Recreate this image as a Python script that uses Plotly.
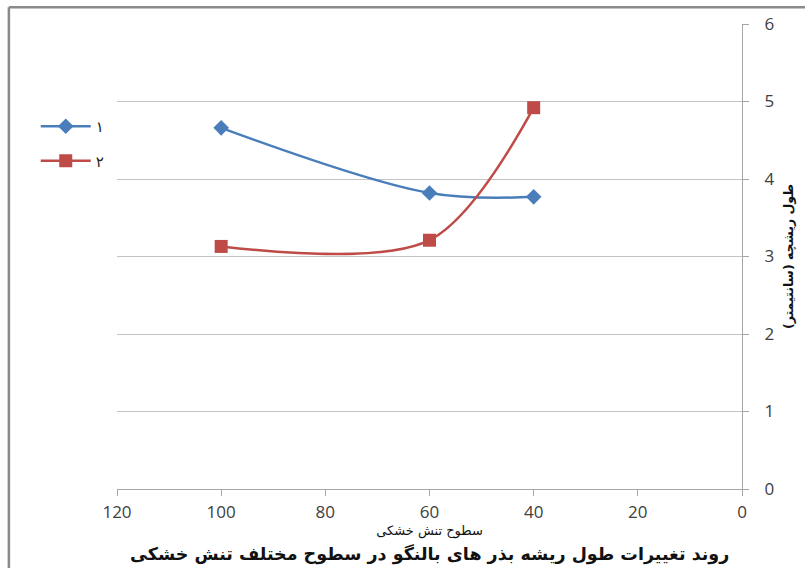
import plotly.graph_objects as go

# Drought stress levels (x) and root length (cm) for the two series
stress_levels = [100, 60, 40]
root_len_1 = [4.66, 3.82, 3.77]
root_len_2 = [3.13, 3.21, 4.92]
series_names = ["۱", "۲"]

x_ticks = [120, 100, 80, 60, 40, 20, 0]
y_ticks = [0, 1, 2, 3, 4, 5, 6]

x_title = "سطوح تنش خشکی"
y_title = "طول ریشچه (سانتیمتر)"
caption = "روند تغییرات طول ریشه بذر های بالنگو در سطوح مختلف تنش خشکی"

AR_FONT = "DejaVu Sans"
TICK_FONT = "Open Sans"

fig = go.Figure()
fig.add_trace(go.Scatter(
    x=stress_levels, y=root_len_1, name=series_names[0], mode="lines+markers",
    line=dict(color="#4a7ebb", width=2.5, shape="spline", smoothing=1.0),
    marker=dict(symbol="diamond", size=12, color="#4a7ebb"),
    legendgroup="a",
))
fig.add_trace(go.Scatter(
    x=stress_levels, y=root_len_2, name=series_names[1], mode="lines+markers",
    line=dict(color="#be4b48", width=2.5, shape="spline", smoothing=0.9),
    marker=dict(symbol="square", size=13, color="#be4b48"),
    legendgroup="b",
))

fig.update_layout(
    width=805, height=568,
    margin=dict(l=117, r=63, t=20, b=79),
    paper_bgcolor="white", plot_bgcolor="white",
    showlegend=True,
    legend=dict(
        x=-0.13, y=0.815, xanchor="left", yanchor="top",
        font=dict(family=AR_FONT, size=15, color="#222"),
        bgcolor="rgba(0,0,0,0)", tracegroupgap=12,
        traceorder="grouped", itemwidth=50,
    ),
    xaxis=dict(
        range=[120, 0], tickvals=x_ticks, ticktext=[str(v) for v in x_ticks],
        showgrid=False, zeroline=False,
        showline=True, linecolor="#a6a6a6", linewidth=1.2,
        ticks="outside", ticklen=6, tickcolor="#a6a6a6",
        ticklabelstandoff=1,
        tickfont=dict(family=TICK_FONT, size=17, color="#404040"),
        title=dict(text=x_title, font=dict(family=AR_FONT, size=13, color="#111"), standoff=4),
    ),
    yaxis=dict(
        range=[0, 6], tickvals=y_ticks, side="right",
        showgrid=True, gridcolor="#c4c4c4", gridwidth=1.2, zeroline=False,
        showline=True, linecolor="#a6a6a6", linewidth=1.2,
        ticks="outside", ticklen=6, tickcolor="#a6a6a6",
        ticklabelstandoff=12,
        tickfont=dict(family=TICK_FONT, size=17, color="#404040"),
        title=dict(text="<b>" + y_title + "</b>",
                   font=dict(family=AR_FONT, size=12.5, color="#111"), standoff=10),
    ),
)

# Caption below the axis title
fig.add_annotation(
    text="<b>" + caption + "</b>", xref="paper", yref="paper",
    x=0.5, y=-0.14, xanchor="center", yanchor="middle", showarrow=False,
    font=dict(family=AR_FONT, size=17.5, color="#111"),
)

# Chart-area frame (left and top edges)
fig.add_shape(type="line", xref="paper", yref="paper",
              x0=-0.173, x1=1.2, y0=1.036, y1=1.036,
              line=dict(color="#8a8a8a", width=2.5))
fig.add_shape(type="line", xref="paper", yref="paper",
              x0=-0.173, x1=-0.173, y0=1.036, y1=-0.2,
              line=dict(color="#8a8a8a", width=2.5))

fig.write_html("out.html")
